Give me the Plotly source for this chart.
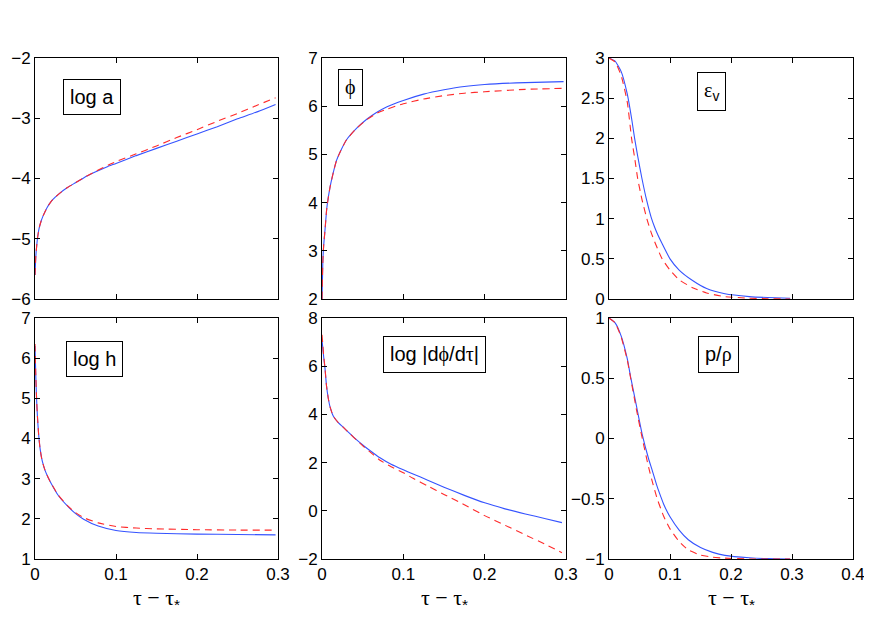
import plotly.graph_objects as go

W, H = 872, 620
OFF = 8  # page body margin: screen px -> figure px

# ---------------- data ----------------
# panel 1: log a
x_loga = [0, 0.001, 0.002, 0.003, 0.005, 0.0075, 0.01, 0.015, 0.02, 0.025, 0.03, 0.04,
          0.05, 0.06, 0.075, 0.09, 0.1, 0.125, 0.15, 0.175, 0.2, 0.225, 0.25, 0.275, 0.297]
loga_blue = [-5.6, -5.3, -5.13, -5.0, -4.83, -4.71, -4.62, -4.48, -4.38, -4.31, -4.25, -4.15,
             -4.07, -3.99, -3.89, -3.8, -3.75, -3.62, -3.5, -3.38, -3.26, -3.14, -3.01, -2.89, -2.77]
loga_red = [-5.6, -5.3, -5.13, -5.0, -4.83, -4.71, -4.62, -4.48, -4.38, -4.31, -4.25, -4.15,
            -4.07, -3.99, -3.88, -3.78, -3.72, -3.59, -3.46, -3.32, -3.19, -3.05, -2.92, -2.78, -2.66]

# panel 2: phi
x_phi = [0, 0.001, 0.002, 0.0037, 0.006, 0.01, 0.015, 0.018, 0.022, 0.03, 0.043, 0.055, 0.067,
         0.08, 0.1, 0.125, 0.15, 0.175, 0.2, 0.25, 0.297]
phi_blue = [2.0, 2.75, 3.1, 3.43, 3.9, 4.33, 4.7, 4.88, 5.04, 5.3, 5.55, 5.73, 5.87,
            5.99, 6.12, 6.25, 6.34, 6.41, 6.45, 6.49, 6.51]
phi_red = [2.0, 2.75, 3.1, 3.43, 3.9, 4.33, 4.7, 4.88, 5.04, 5.3, 5.55, 5.72, 5.85,
           5.94, 6.05, 6.15, 6.22, 6.27, 6.3, 6.35, 6.37]

# panel 3: epsilon_v
x_eps = [0, 0.01, 0.02, 0.03, 0.037, 0.042, 0.047, 0.054, 0.062, 0.069, 0.075, 0.08, 0.087,
         0.1, 0.115, 0.137, 0.16, 0.19, 0.23, 0.26, 0.297]
eps_blue = [3.0, 2.96, 2.83, 2.55, 2.25, 2.0, 1.78, 1.5, 1.22, 1.02, 0.89, 0.8, 0.69,
            0.5, 0.36, 0.23, 0.13, 0.065, 0.03, 0.018, 0.01]
eps_red = [3.0, 2.95, 2.78, 2.45, 2.0, 1.76, 1.5, 1.24, 1.0, 0.83, 0.71, 0.62, 0.5,
           0.36, 0.24, 0.14, 0.075, 0.03, 0.01, 0.004, 0.0]

# panel 4: log h
x_logh = [0, 0.001, 0.002, 0.003, 0.0045, 0.0062, 0.008, 0.01, 0.0125, 0.0162, 0.02,
          0.0288, 0.04, 0.049, 0.06, 0.078, 0.1, 0.125, 0.15, 0.2, 0.25, 0.297]
logh_blue = [6.3, 5.55, 4.96, 4.55, 4.1, 3.76, 3.53, 3.36, 3.2, 3.03, 2.88,
             2.58, 2.32, 2.15, 1.99, 1.82, 1.71, 1.66, 1.64, 1.62, 1.61, 1.6]
logh_red = [6.35, 5.56, 4.97, 4.56, 4.1, 3.76, 3.53, 3.36, 3.2, 3.03, 2.88,
            2.59, 2.33, 2.17, 2.03, 1.9, 1.81, 1.77, 1.75, 1.73, 1.72, 1.72]

# panel 5: log |dphi/dtau|
x_dphi = [0, 0.001, 0.002, 0.0037, 0.0055, 0.0078, 0.01, 0.014, 0.02, 0.026, 0.034, 0.0426, 0.052,
          0.063, 0.0713, 0.085, 0.1, 0.112, 0.13, 0.15, 0.175, 0.2, 0.225, 0.25, 0.275, 0.295]
dphi_blue = [7.1, 6.75, 6.4, 5.9, 5.2, 4.65, 4.3, 3.92, 3.66, 3.47, 3.21, 2.94, 2.68,
             2.4, 2.2, 1.93, 1.7, 1.53, 1.27, 0.98, 0.64, 0.33, 0.08, -0.13, -0.33, -0.49]
dphi_red = [7.3, 6.9, 6.45, 5.92, 5.2, 4.65, 4.3, 3.92, 3.66, 3.47, 3.21, 2.93, 2.64,
            2.33, 2.1, 1.83, 1.58, 1.35, 1.03, 0.68, 0.25, -0.2, -0.6, -1.0, -1.4, -1.74]

# panel 6: p/rho
x_prho = [0, 0.01, 0.02, 0.03, 0.0355, 0.045, 0.0546, 0.065, 0.07, 0.079, 0.0847, 0.09,
          0.1, 0.115, 0.13, 0.15, 0.17, 0.19, 0.23, 0.26, 0.297]
prho_blue = [1.0, 0.96, 0.85, 0.66, 0.51, 0.27, 0.03, -0.17, -0.25, -0.4, -0.48, -0.55,
             -0.65, -0.76, -0.84, -0.905, -0.945, -0.97, -0.99, -0.997, -1.0]
prho_red = [1.0, 0.96, 0.84, 0.65, 0.5, 0.24, 0.0, -0.24, -0.34, -0.5, -0.58, -0.65,
            -0.75, -0.855, -0.925, -0.967, -0.985, -0.993, -1.0, -1.0, -1.0]

SERIF = "font-family:Liberation Serif, DejaVu Serif"
panel_labels = ["log a",
                f"<span style='{SERIF}'>ϕ</span>",
                f"<span style='{SERIF}'>ε</span><sub>v</sub>",
                "log h",
                f"log |d<span style='{SERIF}'>ϕ</span>/d<span style='{SERIF}'>τ</span>|",
                f"p/<span style='{SERIF}'>ρ</span>"]
xlabel = f"<span style='{SERIF}'>τ − τ</span><sub>*</sub>"

y_ranges = [[-6, -2], [2, 7], [0, 3], [1, 7], [-2, 8], [-1, 1]]
y_dticks = [1, 1, 0.5, 1, 2, 0.5]
x_ranges = [[0, 0.3], [0, 0.3], [0, 0.4], [0, 0.3], [0, 0.3], [0, 0.4]]

series = [
    (x_loga, loga_blue, loga_red),
    (x_phi, phi_blue, phi_red),
    (x_eps, eps_blue, eps_red),
    (x_logh, logh_blue, logh_red),
    (x_dphi, dphi_blue, dphi_red),
    (x_prho, prho_blue, prho_red),
]

# ---------------- layout geometry (screen pixels of the reference) ----------------
cols = [(35, 278), (322, 566), (609, 853)]
rows = [(58, 299), (318, 559)]
label_pos = [(92, 97.5), (350.5, 87), (711, 91.5), (94.5, 358.5), (434, 354), (718, 354.5)]
title_top = 583

BLUE = "#3553ff"
RED = "#ff2a2a"


def px(x):
    return (x - OFF) / W


def py(y):
    return 1 - (y - OFF) / H


fig = go.Figure()
layout = dict(
    width=W, height=H, margin=dict(l=0, r=0, t=0, b=0, autoexpand=False),
    paper_bgcolor="white", plot_bgcolor="white", showlegend=False,
    font=dict(family="Liberation Sans, Arial, sans-serif", size=17, color="black"),
    annotations=[],
)

for i in range(6):
    r, c = divmod(i, 3)
    n = "" if i == 0 else str(i + 1)
    xs, yb, yr = series[i]
    fig.add_trace(go.Scatter(x=xs, y=yb, mode="lines", xaxis="x" + n, yaxis="y" + n,
                             line=dict(color=BLUE, width=1.1, shape="spline", smoothing=0.5)))
    fig.add_trace(go.Scatter(x=xs, y=yr, mode="lines", xaxis="x" + n, yaxis="y" + n,
                             line=dict(color=RED, width=1.1, dash="7px,5px", shape="spline", smoothing=0.5)))
    x0, x1 = cols[c]
    y0, y1 = rows[r]
    common = dict(showgrid=False, zeroline=False, showline=True, mirror="ticks",
                  linecolor="black", linewidth=1, ticks="inside", ticklen=5,
                  tickcolor="black", tickwidth=1, tickfont=dict(size=17), automargin=False)
    xa = dict(common, domain=[px(x0), px(x1)], range=x_ranges[i], dtick=0.1, tick0=0,
              anchor="y" + n, showticklabels=(r == 1))
    ya = dict(common, domain=[py(y1), py(y0)], range=y_ranges[i], dtick=y_dticks[i],
              tick0=y_ranges[i][0], anchor="x" + n)
    layout["xaxis" + n] = xa
    layout["yaxis" + n] = ya
    lx, ly = label_pos[i]
    layout["annotations"].append(dict(
        text=panel_labels[i], x=px(lx), y=py(ly), xref="paper", yref="paper",
        showarrow=False, font=dict(size=20, color="black"), bgcolor="white",
        bordercolor="black", borderwidth=1, borderpad=6, xanchor="center", yanchor="middle"))
    if r == 1:
        layout["annotations"].append(dict(
            text=xlabel, x=px((x0 + x1) / 2), y=py(title_top), xref="paper", yref="paper",
            showarrow=False, font=dict(size=22, color="black"), xanchor="center", yanchor="top"))

fig.update_layout(**layout)
fig.write_html("out.html")
